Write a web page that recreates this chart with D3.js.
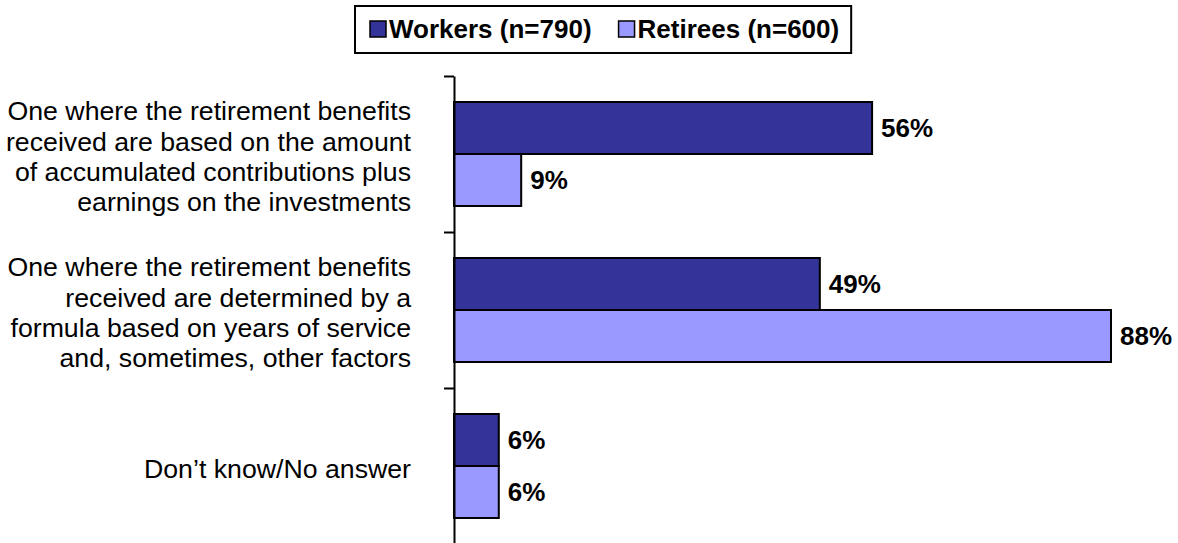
<!DOCTYPE html>
<html>
<head>
<meta charset="utf-8">
<script src="https://cdn.jsdelivr.net/npm/d3@7"></script>
<style>
  body { margin: 0; background: #fff; }
  svg { display: block; }
  text { font-family: Arial, "Liberation Sans", Helvetica, sans-serif; fill: #000; }
</style>
</head>
<body>
<svg id="chart" width="1178" height="543"></svg>
<script>
// Response categories (line breaks mark the wrapped label lines)
const categories = [
  "One where the retirement benefits\nreceived are based on the amount\nof accumulated contributions plus\nearnings on the investments",
  "One where the retirement benefits\nreceived are determined by a\nformula based on years of service\nand, sometimes, other factors",
  "Don\u2019t know/No answer"
];
const series = ["Workers (n=790)", "Retirees (n=600)"];
const workers = [56, 49, 6];
const retirees = [9, 88, 6];
const seriesColors = ["#333399", "#9999FF"];

const rows = categories.map((c, i) => ({ category: c, values: [workers[i], retirees[i]] }));

const svg = d3.select("#chart");
const axisX = 454;
const fontSize = 26;
const labelFontSize = 26.7;

const x = d3.scaleLinear().domain([0, 100]).range([axisX, axisX + 746.6]);
const y0 = d3.scaleBand().domain(categories).range([76, 544]);
const y1 = d3.scaleBand().domain(series).range([0, y0.bandwidth()]).paddingInner(0).paddingOuter(0.5);

// Bars
const groups = svg.append("g").selectAll("g")
  .data(rows).join("g")
  .attr("transform", d => `translate(0,${y0(d.category)})`);

groups.selectAll("rect")
  .data(d => d.values.map((v, j) => ({ key: series[j], value: v, j })))
  .join("rect")
  .attr("x", x(0))
  .attr("y", d => y1(d.key))
  .attr("width", d => x(d.value) - x(0))
  .attr("height", y1.bandwidth())
  .attr("fill", d => seriesColors[d.j])
  .attr("stroke", "#000")
  .attr("stroke-width", 2);

// Value labels
groups.selectAll("text.val")
  .data(d => d.values.map((v, j) => ({ key: series[j], value: v, j })))
  .join("text")
  .attr("class", "val")
  .attr("x", d => x(d.value) + 9)
  .attr("y", d => y1(d.key) + y1.bandwidth() / 2)
  .attr("dy", "0.36em")
  .attr("font-size", fontSize)
  .attr("font-weight", "bold")
  .text(d => d.value + "%");

// Category axis with ticks on the band boundaries
const yEdge = d3.scaleLinear().domain([0, categories.length]).range(y0.range());
const axis = svg.append("g")
  .attr("transform", `translate(${axisX},0)`)
  .call(d3.axisLeft(yEdge).tickValues(d3.range(categories.length + 1)).tickSize(10).tickSizeOuter(0).tickFormat(""));
axis.selectAll("path, line").attr("stroke", "#000").attr("stroke-width", 2);

// Category labels
const lineGap = 30.2;
svg.append("g").selectAll("text")
  .data(categories).join("text")
  .attr("text-anchor", "end")
  .attr("font-size", labelFontSize)
  .each(function(c) {
    const lines = c.split("\n");
    const cy = y0(c) + y0.bandwidth() / 2 + 2;
    d3.select(this).selectAll("tspan")
      .data(lines).join("tspan")
      .attr("x", 411)
      .attr("y", (l, i) => cy + (i - (lines.length - 1) / 2) * lineGap)
      .attr("dy", "0.36em")
      .text(l => l);
  });

// Legend
const legend = svg.append("g");
const legendBox = legend.append("rect")
  .attr("fill", "#fff").attr("stroke", "#000").attr("stroke-width", 2);
let lx = 370;
const ly = 29;
const itemGap = 27;
series.forEach((s, j) => {
  legend.append("rect")
    .attr("x", lx).attr("y", ly - 8).attr("width", 16).attr("height", 16)
    .attr("fill", seriesColors[j]).attr("stroke", "#000").attr("stroke-width", 1.5);
  const t = legend.append("text")
    .attr("x", lx + 19).attr("y", ly).attr("dy", "0.36em")
    .attr("font-size", fontSize).attr("font-weight", "bold")
    .text(s);
  lx += 19 + t.node().getComputedTextLength() + itemGap;
});
legendBox.attr("x", 355).attr("y", 6).attr("width", lx - itemGap + 12 - 355).attr("height", 47);
</script>
</body>
</html>
